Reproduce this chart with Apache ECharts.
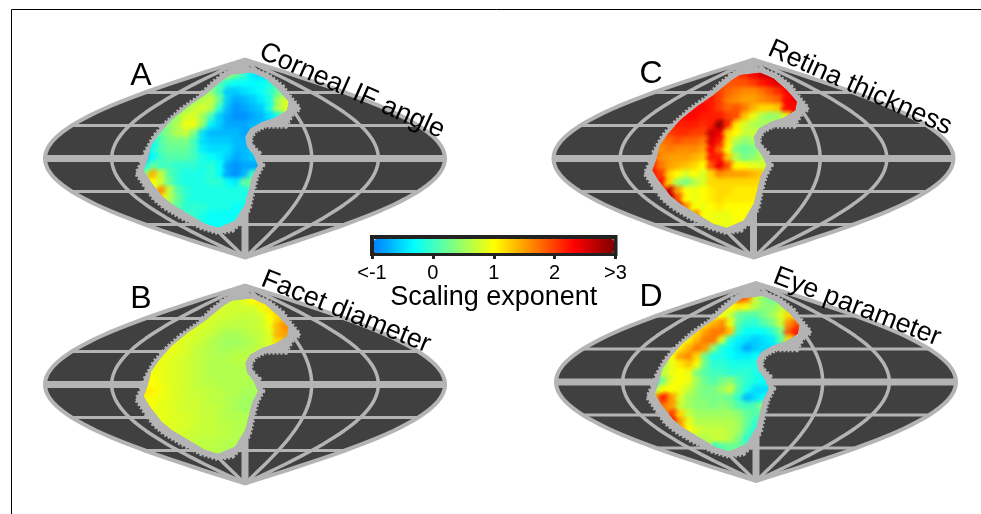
<!DOCTYPE html>
<html><head><meta charset="utf-8">
<style>html,body{margin:0;padding:0;background:#fff}#c{width:981px;height:514px}</style>
<script src="https://cdn.jsdelivr.net/npm/echarts@6/dist/echarts.min.js"></script>
</head><body><div id="c"></div>
<script>
// Per-row first column of the sampled patch (columns are 7.5 deg of projected longitude, rows 7.5 deg of latitude)
const rowStart=[9,8,7,5,4,3,2,1,1,0,0,0,0,1,2,2,3,5,7];
const cornealAngle=[
[.2,.5,.2,-.1,-.4,-.5],
[.3,.1,-.2,-.3,-.3,-.35,-.3,-.2,0],
[.5,.4,0,-.6,-.6,-.5,-.4,-.3,-.1,.2,.4],
[.3,.5,.6,.7,.2,-.6,-.8,-.7,-.6,-.4,-.2,.5,.8],
[.3,.5,.7,.8,.6,-.1,-.7,-.9,-.8,-.7,-.6,-.2,.6,.8],
[.3,.5,.8,.8,.5,0,-.6,-.8,-.9,-.9,-.8,-.7,-.5,-.2],
[.2,.4,.6,.9,.9,.4,-.4,-.6,-.8,-.8,-.8,-.7,-.7],
[0,.2,.4,.6,.7,.3,-.5,-.7,-.7,-.7,-.7,-.8],
[-.3,.1,.3,.3,.3,0,-.5,-.6,-.6,-.6,-.7,-.7],
[-.5,-.2,.1,.2,.2,.2,0,-.4,-.5,-.5,-.5,-.7,-.7,-.6],
[-.6,-.3,0,.1,.1,.1,0,-.2,-.3,-.4,-.6,-.8,-.7,-.6],
[-.3,.2,0,0,-.1,-.1,-.1,-.2,-.1,-.3,-.8,-.9,-.8,-.8],
[.5,1.4,.7,.1,-.1,-.2,-.2,-.2,-.1,-.3,-.8,-.9,-.7,0],
[1,.7,.2,-.1,-.2,-.2,-.2,-.1,-.1,-.3,-.4,.2,.2],
[1.6,.7,.1,-.1,-.2,-.2,-.2,-.2,-.2,-.2,-.2],
[1,.6,.2,-.1,-.2,-.2,-.2,-.2,-.2,-.2,-.2],
[.3,.1,-.1,-.1,-.1,-.2,-.2,-.2,-.3,-.3],
[0,-.1,-.2,-.3,-.3,-.3,-.3],
[-.2,-.3,-.3,-.3,-.2]];
const facetDiameter=[
[.75,.75,.75,.85,1,1.1],
[.8,.8,.75,.75,.75,.75,.9,1.1,1.3],
[.8,.8,.75,.75,.7,.7,.7,.75,1,1.2,1.5],
[.85,.8,.8,.75,.7,.65,.65,.65,.7,.75,.9,1.4,1.6],
[.9,.85,.8,.75,.7,.6,.55,.55,.6,.65,.7,.85,1.4,1.5],
[.9,.85,.8,.75,.7,.6,.55,.5,.5,.55,.6,.7,.8,1.2],
[.9,.9,.85,.8,.7,.65,.6,.55,.55,.6,.6,.65,.7],
[.9,.9,.85,.8,.75,.7,.65,.6,.6,.6,.65,.65],
[.9,.9,.85,.8,.75,.7,.65,.6,.6,.6,.6,.6],
[.9,.95,.9,.85,.8,.75,.7,.65,.6,.6,.6,.6,.6,.6],
[1,1,.9,.85,.8,.75,.7,.65,.65,.6,.6,.6,.6,.55],
[1.1,1.05,.95,.85,.8,.75,.7,.7,.65,.65,.6,.6,.55,.55],
[.95,.95,.9,.85,.8,.75,.75,.7,.65,.65,.6,.55,.5,.5],
[.95,.85,.85,.8,.75,.75,.7,.7,.65,.6,.55,.5,.5],
[.9,.85,.8,.8,.75,.7,.7,.65,.6,.6,.6],
[.85,.85,.8,.8,.75,.7,.7,.65,.65,.6,.6],
[.85,.8,.75,.7,.7,.7,.65,.65,.6,.6],
[.7,.7,.65,.65,.65,.6,.6],
[.65,.65,.6,.6,.6]];
const retinaThickness=[
[1.9,2,2.1,2.3,2.5,2.6],
[1.9,1.9,1.9,1.9,2,2.2,2.3,2.5,2.5],
[2.1,2,1.8,1.7,1.6,1.6,1.7,1.9,2.1,2.3,2.4],
[2.3,2.2,2.2,2,1.7,1.6,1.5,1.5,1.6,1.7,1.8,2.3,2.4],
[2.2,2.3,2.3,2.2,2,1.8,1.9,1.7,1.4,1.2,1.2,1.3,2.3,2.3],
[2.2,2.3,2.3,2.2,2.2,2.2,2,1.9,1.3,.9,.6,.4,.5,.9],
[2.1,2.2,2.2,2.2,2.1,2.2,2.9,2.1,1.1,.8,.6,.5,.6],
[1.9,2,2.1,2.1,2,2,2.6,2.4,1.2,1,.7,.7],
[1.7,1.8,1.9,1.8,1.8,1.7,2.5,2.2,1.1,.6,.4,.5],
[1.7,1.6,1.7,1.6,1.6,1.6,1.5,2.3,1.8,1,.3,.2,.3,.5],
[1.9,1.6,1.5,1.5,1.5,1.4,1.3,2.2,2.2,1.3,.6,.3,.4,.6],
[2.1,1.7,1.5,1.4,1.3,1.2,1,1.9,2.4,1.9,1,1,.9,.8],
[2.2,2,1.2,1,.8,1,.8,1.2,1.6,1.5,1.5,1.5,1.4,1.3],
[2.2,1.2,.5,.3,.6,.8,1.2,1.2,1.2,1.2,1.2,1.2,1.2],
[2.6,1.5,1,.9,1,1.1,1.2,1.2,1.1,1.1,1.1],
[2.7,1.9,1,.9,1,1.1,1.2,1.1,1.1,1.1,1.1],
[2.5,1.6,1,.9,1,1.1,1,1,1,1],
[1.8,1,.9,.9,.9,1,1],
[1,.9,.9,.95,1]];
const eyeParameter=[
[1,1.9,1.7,.7,.4,.2],
[.9,1,1.1,.9,.6,.4,.4,.6,1.2],
[1,1,.7,.2,.1,.1,.3,.5,.8,1.2,1.3],
[1,1.2,1.4,1.6,.9,.1,-.1,-.1,.1,.3,.7,1.6,1.9],
[.9,1.2,1.5,1.7,1.7,1.3,-.1,-.3,-.3,-.3,-.1,.3,1.9,2.2],
[.9,1.1,1.4,1.7,1.7,.8,-.2,-.4,-.5,-.6,-.5,-.4,.1,1.2],
[.9,1.1,1.4,1.7,1.5,.4,-.2,-.3,-.5,-.8,-.6,-.5,-.5],
[.8,1,1.5,1.6,1.2,.2,-.2,-.2,-.3,-.4,-.4,-.3],
[.5,.9,1.1,1.3,.9,.2,-.1,-.1,-.2,-.2,-.2,-.2],
[.3,.7,.9,1,.9,.3,.1,0,0,-.1,-.1,-.1,-.2,-.3],
[-.2,.4,.9,1,.9,.5,.2,.1,.3,.4,.1,-.1,-.2,-.3],
[.6,1,1,.9,.7,.4,.3,.3,.5,.7,.1,-.2,-.5,-.5],
[1.6,2.2,1.5,.8,.5,.4,.3,.3,.3,.2,-.1,-.7,-.5,-.3],
[1.7,1.5,.7,.5,.4,.4,.3,.4,.3,.1,0,.1,.5],
[2,1.2,.7,.5,.5,.5,.5,.5,.4,.2,.1],
[2.2,1.5,.9,.6,.6,.6,.6,.6,.5,.2,-.1],
[1.4,1,.8,.7,.7,.7,.6,.5,.1,-.2],
[.6,.6,.7,.7,.6,.3,-.1],
[-.1,.1,.2,.2,-.1]];
// Outline of the sampled patch and of its grey margin, [projected lon, lat]
const patchEdge=[[-19.5,71.2],[-12,75.8],[6,77.9],[18,72.7],[30,62.1],[39,51.5],[37.5,43.9],[27,37.3],[15,33.3],[4.5,27.3],[0,19.7],[1.5,10.6],[7.5,3],[11.4,-6.1],[6,-16.7],[3,-28.8],[0,-40.9],[-9,-56.1],[-24,-62.7],[-36,-59.1],[-51,-50],[-66,-40.9],[-75,-33.3],[-85.5,-19.7],[-90.9,-10.6],[-87,0],[-84,12.1],[-76.5,22.7],[-66,34.8],[-51,47],[-36,57.6],[-27,65.1]];
const marginEdge=[[-20.4,74.8],[-12,80.9],[-4.5,84.8],[6,80.3],[19.5,75.8],[33,65.1],[40.5,54.5],[48,45.5],[42,40.9],[36,30.3],[18,30.3],[9,25.8],[4.5,19.7],[4.5,12.1],[12,4.5],[15,-6.1],[9.6,-16.7],[6,-31.8],[3,-45.5],[-4.5,-57.6],[-12,-64.5],[-24,-66.7],[-39,-62.1],[-57,-53],[-72,-43.9],[-81,-36.4],[-88.5,-25.8],[-96.6,-13.6],[-91.5,-3],[-88.5,6],[-81,19.7],[-72,30.3],[-57,43.9],[-42,54.5],[-30,66.7]];
const parallels=[-60,-30,30,60];
const meridians=[-120,-60,60,120];
const tickLabels=['<-1','0','1','2','>3'];
const tickValues=[-1,0,1,2,3];
const jet=['#0080ff','#00ffff','#80ff80','#ffff00','#ff8000','#ff0000','#800000'];
const panels=[
 {letter:'A',title:'Corneal IF angle',rows:cornealAngle,left:45,top:59.5},
 {letter:'B',title:'Facet diameter',rows:facetDiameter,left:45,top:285.5},
 {letter:'C',title:'Retina thickness',rows:retinaThickness,left:553.5,top:59.5},
 {letter:'D',title:'Eye parameter',rows:eyeParameter,left:556,top:283}
];
const GRAY='#b4b4b4',DARK='#404040',FONT='"Liberation Sans",Arial,sans-serif';
const rad=d=>d*Math.PI/180;
const STEP=7.5,X0=-93,Y0=78;
function cellsOf(rows){
  const out=[];
  rows.forEach((r,i)=>r.forEach((v,k)=>out.push([X0+STEP*(rowStart[i]+k)+STEP/2,Y0-STEP*i-STEP/2,v])));
  return out;
}
const lats=[];for(let a=-90;a<=90;a+=3)lats.push(a);
const pm=lon=>lats.map(a=>[lon*Math.cos(rad(a)),a]);
const par=a=>{const h=180*Math.cos(rad(a));return [[-h,a],[h,a]];};
const outline=pm(180).concat(pm(-180).reverse());
function poly(points,style){
  return (p,api)=>({type:'polygon',shape:{points:points.map(q=>api.coord(q))},style:style});
}
function fadeOf(col){
  const c=echarts.color.parse(col);
  const rgba=a=>'rgba('+c[0]+','+c[1]+','+c[2]+','+a+')';
  return {type:'radial',x:.5,y:.5,r:.5,colorStops:[{offset:0,color:rgba(1)},{offset:.45,color:rgba(.75)},{offset:1,color:rgba(0)}]};
}
const grid=[],xAxis=[],yAxis=[],series=[],cellIdx=[];
panels.forEach((P,i)=>{
  grid.push({left:P.left,top:P.top,width:400,height:198});
  xAxis.push({gridIndex:i,type:'value',min:-180,max:180,show:false});
  yAxis.push({gridIndex:i,type:'value',min:-90,max:90,show:false});
  const ax={xAxisIndex:i,yAxisIndex:i,coordinateSystem:'cartesian2d',silent:true,animation:false};
  series.push(Object.assign({type:'custom',z:1,data:[[0,0]],renderItem:poly(outline,{fill:DARK,stroke:GRAY,lineWidth:4,lineJoin:'miter'})},ax));
  const ln=(data,w)=>series.push(Object.assign({type:'line',z:2,data:data,showSymbol:false,lineStyle:{color:GRAY,width:w}},ax));
  parallels.forEach(a=>ln(par(a),3));
  meridians.forEach(l=>ln(pm(l),3.5));
  ln(par(0),7);
  ln(pm(0),7);
  series.push(Object.assign({type:'custom',z:3,data:[[0,0]],renderItem:poly(marginEdge,{fill:GRAY,stroke:GRAY,lineWidth:7,lineDash:[2,2]})},ax));
  series.push(Object.assign({type:'custom',z:4,data:[[0,0]],renderItem:poly(marginEdge,{fill:GRAY,stroke:GRAY,lineWidth:4})},ax));
  let clipPts=null;
  ['hard','soft'].forEach((mode,m)=>{
    cellIdx.push(series.length);
    series.push(Object.assign({type:'custom',z:5+m,data:cellsOf(P.rows),encode:{x:0,y:1},
      renderItem:(p,api)=>{
        if(!clipPts)clipPts=patchEdge.map(q=>api.coord(q));
        const c=api.coord([api.value(0),api.value(1)]),s=api.size([STEP,STEP]),col=api.visual('color');
        const clip={type:'polygon',shape:{points:clipPts}};
        if(mode==='hard')return {type:'rect',shape:{x:c[0]-s[0]/2-.5,y:c[1]-s[1]/2-.5,width:s[0]+1,height:s[1]+1},style:{fill:col},clipPath:clip};
        const r=s[0]*1.15;
        return {type:'rect',shape:{x:c[0]-r,y:c[1]-r,width:2*r,height:2*r},style:{fill:fadeOf(col)},clipPath:clip};
      }},ax));
  });
});
// colour bar axis
grid.push({left:372,top:237,width:243.5,height:17,show:true,backgroundColor:'transparent',borderColor:'#222',borderWidth:4,z:6});
xAxis.push({gridIndex:4,type:'value',min:-1,max:3,interval:1,position:'bottom',
  axisLine:{show:false},splitLine:{show:false},
  axisTick:{show:true,length:5,lineStyle:{color:'#222',width:3}},
  axisLabel:{color:'#000',fontSize:20,fontFamily:FONT,margin:9,hideOverlap:false,showMinLabel:true,showMaxLabel:true,
    formatter:v=>tickLabels[tickValues.indexOf(v)]},
  name:'Scaling exponent',nameLocation:'middle',nameGap:28,nameTextStyle:{color:'#000',fontSize:27,fontFamily:FONT}});
yAxis.push({gridIndex:4,type:'value',show:false});
const txt=(t,x,y,size,rot)=>({type:'text',x:x,y:y,rotation:rot?rad(rot):0,z:100,silent:true,
  style:{text:t,font:size+'px '+FONT,fill:'#000',align:'center',verticalAlign:'middle'}});
const letterAt={A:[141,76],B:[141,299],C:[651,74],D:[651,297]};
const titleAt={A:[352,91,-24],B:[346,312,-22],C:[860,88,-24],D:[857,307,-21]};
const graphics=[{type:'polyline',z:100,silent:true,shape:{points:[[11.5,514],[11.5,9.5],[981,9.5]]},style:{stroke:'#000',lineWidth:1,fill:'none'}}];
panels.forEach(P=>{
  const l=letterAt[P.letter],t=titleAt[P.letter];
  graphics.push(txt(P.letter,l[0],l[1],32));
  graphics.push(txt(P.title,t[0],t[1],27,t[2]));
});
const chart=echarts.init(document.getElementById('c'),null,{renderer:'canvas'});
chart.setOption({animation:false,backgroundColor:'#fff',grid,xAxis,yAxis,series,graphic:graphics,
  visualMap:{type:'continuous',min:-1,max:3,dimension:2,seriesIndex:cellIdx,orient:'horizontal',left:359,top:224,
    itemWidth:14,itemHeight:240,calculable:false,realtime:false,hoverLink:false,text:null,showLabel:false,inRange:{color:jet},zlevel:0,z:7,
    formatter:()=>''}});
</script></body></html>
